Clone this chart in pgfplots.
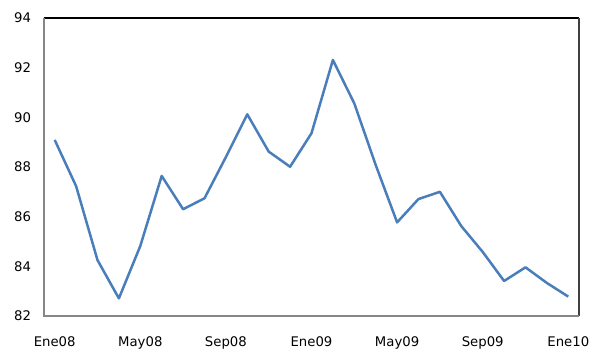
\documentclass[border=0pt]{standalone}
\usepackage{pgfplots}
\pgfplotsset{compat=1.18}
\usepackage{fontspec}
\setmainfont{DejaVu Sans}
\definecolor{series}{HTML}{4A7EBB}
\definecolor{axgray}{HTML}{868686}
\begin{document}
\begin{tikzpicture}
\path[use as bounding box] (0,0) rectangle (592bp,351bp);
\begin{axis}[at={(44bp,35bp)}, anchor=south west, scale only axis,
  width=535bp, height=298bp,
  xmin=-0.5, xmax=24.5, ymin=82, ymax=94,
  ytick={82,84,...,94}, xtick={0,4,...,24},
  xticklabels={Ene08,May08,Sep08,Ene09,May09,Sep09,Ene10},
  major tick length=0, axis line style={draw=none},
  /pgf/number format/assume math mode=true,
  tick label style={font=\fontsize{13.3}{15}\selectfont},
  yticklabel style={xshift=-9.5bp},
  xticklabel style={yshift=-17bp},
  clip=false]
\addplot[series, line width=2.5bp, line join=round] coordinates {
(0,89.09) (1,87.23) (2,84.25) (3,82.71) (4,84.82) (5,87.64) (6,86.30)
(7,86.74) (8,88.40) (9,90.12) (10,88.62) (11,88.01) (12,89.36) (13,92.31)
(14,90.56) (15,88.08) (16,85.77) (17,86.71) (18,87.00) (19,85.62) (20,84.58)
(21,83.41) (22,83.96) (23,83.33) (24,82.78)};
\draw[black, line width=1.1bp] (rel axis cs:0,1) -- (rel axis cs:1,1);
\draw[black!75, line width=1.4bp] (rel axis cs:1,1) -- (rel axis cs:1,0);
\draw[axgray, line width=1.5bp] (rel axis cs:1,0) -- (rel axis cs:0,0) -- (rel axis cs:0,1);
\end{axis}
\end{tikzpicture}
\end{document}
